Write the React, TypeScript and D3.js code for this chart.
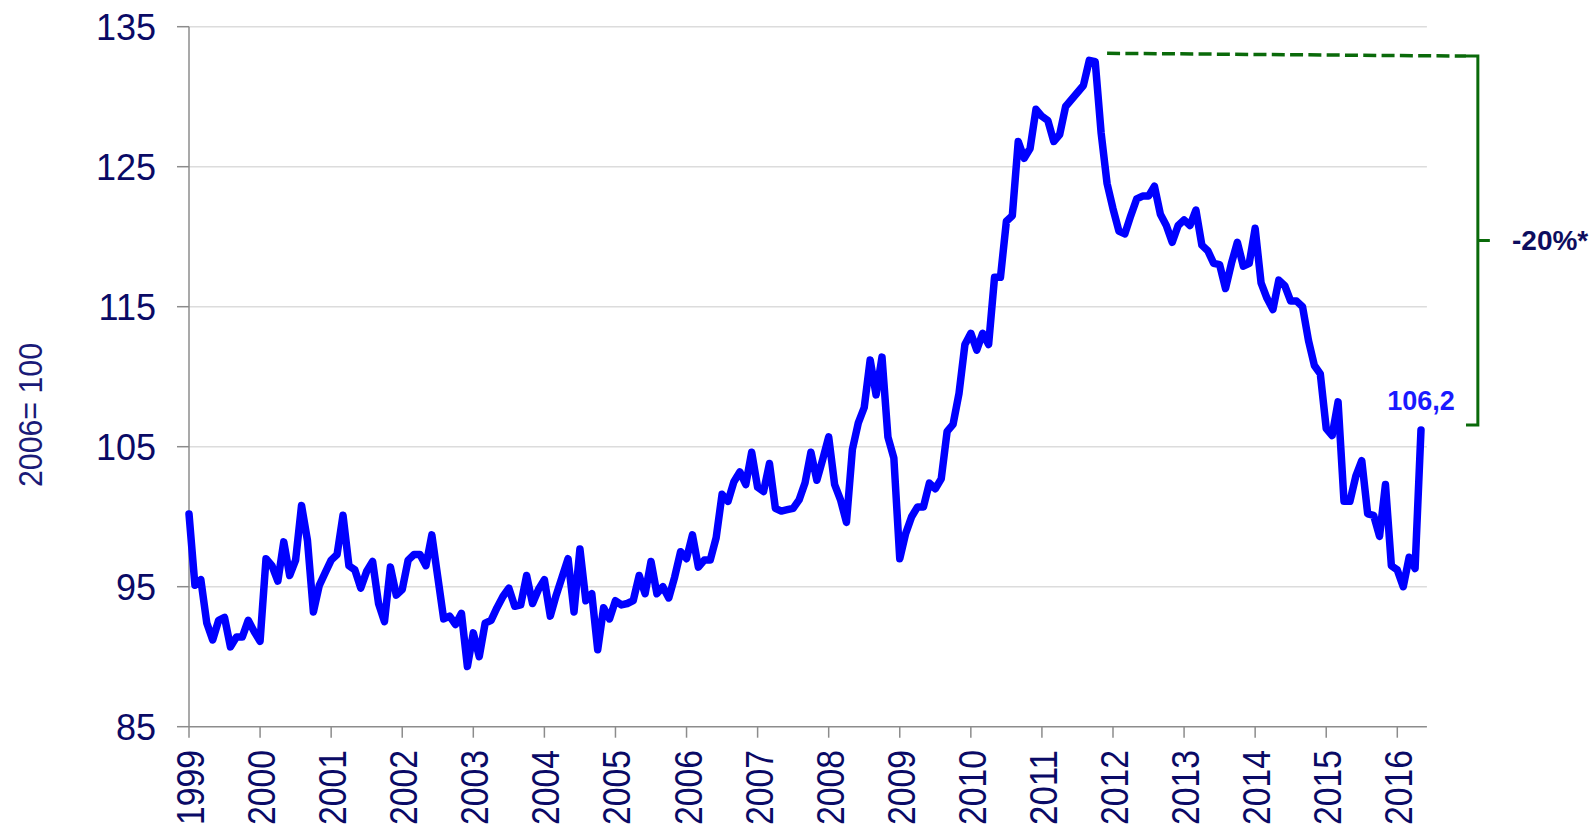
import React from "react";
import * as d3 from "d3";

// Monthly index, Jan 1999 – May 2016 (2006 = 100)
const values: number[] = [
  // 1999
  100.2, 95.1, 95.5, 92.4, 91.2, 92.6, 92.8, 90.7, 91.4, 91.4, 92.6, 91.8,
  // 2000
  91.1, 97.0, 96.5, 95.4, 98.2, 95.8, 96.9, 100.8, 98.3, 93.2, 95.1, 96.0,
  // 2001
  96.9, 97.3, 100.1, 96.5, 96.2, 94.9, 96.1, 96.8, 93.8, 92.5, 96.4, 94.4,
  // 2002
  94.8, 96.9, 97.3, 97.3, 96.5, 98.7, 95.7, 92.7, 92.9, 92.3, 93.1, 89.3,
  // 2003
  91.7, 90.0, 92.4, 92.6, 93.5, 94.3, 94.9, 93.6, 93.7, 95.8, 93.8, 94.8,
  // 2004
  95.5, 92.9, 94.4, 95.7, 97.0, 93.2, 97.7, 94.0, 94.5, 90.5, 93.5, 92.7,
  // 2005
  94.0, 93.7, 93.8, 94.0, 95.8, 94.5, 96.8, 94.5, 95.0, 94.2, 95.7, 97.5,
  // 2006
  97.0, 98.7, 96.4, 96.9, 96.9, 98.5, 101.6, 101.1, 102.5, 103.2, 102.3, 104.6,
  // 2007
  102.1, 101.8, 103.8, 100.6, 100.4, 100.5, 100.6, 101.2, 102.4, 104.6, 102.6, 104.1,
  // 2008
  105.7, 102.3, 101.2, 99.6, 104.8, 106.7, 107.8, 111.2, 108.7, 111.4, 105.7, 104.2,
  // 2009
  97.0, 98.8, 100.0, 100.7, 100.7, 102.4, 102.0, 102.7, 106.1, 106.6, 108.8, 112.3,
  // 2010
  113.1, 111.9, 113.1, 112.3, 117.1, 117.1, 121.1, 121.5, 126.8, 125.6, 126.3, 129.1,
  // 2011
  128.6, 128.3, 126.8, 127.3, 129.3, 129.8, 130.3, 130.8, 132.6, 132.5, 127.4, 123.8,
  // 2012
  122.0, 120.4, 120.2, 121.5, 122.7, 122.9, 122.9, 123.6, 121.6, 120.8, 119.6, 120.8,
  // 2013
  121.2, 120.8, 121.9, 119.4, 119.0, 118.1, 118.0, 116.3, 118.1, 119.6, 117.9, 118.1,
  // 2014
  120.6, 116.7, 115.6, 114.8, 116.9, 116.5, 115.4, 115.4, 115.0, 112.6, 110.8, 110.2,
  // 2015
  106.3, 105.8, 108.2, 101.1, 101.1, 102.9, 104.0, 100.2, 100.1, 98.6, 102.3, 96.5,
  // 2016
  96.2, 95.0, 97.1, 96.3, 106.2,
];

const yearLabels: number[] = d3.range(1999, 2017);
const yTicks: number[] = [85, 95, 105, 115, 125, 135];
const yTitle = "2006= 100";
const lastLabel = "106,2";
const dropLabel = "-20%*";
const peakLevelStart = 133.1;
const peakLevelEnd = 132.9;
const bracketBottom = 106.55;

const FONT = "'Liberation Sans', Arial, Helvetica, sans-serif";
const NAVY = "#0a0a66";
const GREEN = "#0a6a0a";

export default function App() {
  const W = 1591;
  const H = 827;
  const x = d3.scaleLinear().domain([0, 204]).range([189, 1397.3]);
  const y = d3.scaleLinear().domain([85, 135]).range([726.7, 26.7]);
  const xEnd = x(209);

  const line = d3
    .line<number>()
    .x((_, i) => x(i))
    .y((d) => y(d));

  const xb = x(217.6);
  const xc = x(215.6);
  const yTop = y(peakLevelEnd);
  const yBot = y(bracketBottom);
  const yMid = (yTop + yBot) / 2;
  const last = values.length - 1;

  return (
    <svg
      width={W}
      height={H}
      style={{ position: "absolute", left: 0, top: 0, background: "#fff" }}
    >
      {/* gridlines */}
      {yTicks.slice(1).map((t) => (
        <line
          key={"g" + t}
          x1={x(0)}
          x2={xEnd}
          y1={y(t)}
          y2={y(t)}
          stroke="#dcdcdc"
          strokeWidth={1.5}
        />
      ))}
      {/* y axis */}
      <line x1={x(0)} x2={x(0)} y1={y(135)} y2={y(85)} stroke="#8c8c8c" strokeWidth={1.5} />
      {yTicks.map((t) => (
        <g key={"y" + t}>
          <line x1={x(0) - 12} x2={x(0)} y1={y(t)} y2={y(t)} stroke="#8c8c8c" strokeWidth={1.5} />
          <text
            x={156}
            y={y(t)}
            dy="0.36em"
            textAnchor="end"
            fontFamily={FONT}
            fontSize={36}
            fill={NAVY}
          >
            {t}
          </text>
        </g>
      ))}
      {/* x axis */}
      <line x1={x(0)} x2={xEnd} y1={y(85)} y2={y(85)} stroke="#8c8c8c" strokeWidth={1.5} />
      {yearLabels.map((yr, k) => {
        const xi = x(k * 12);
        return (
          <g key={"x" + yr}>
            <line x1={xi} x2={xi} y1={y(85)} y2={y(85) + 11} stroke="#8c8c8c" strokeWidth={1.5} />
            <text
              transform={`translate(${xi + 15},750) rotate(-90)`}
              textAnchor="end"
              fontFamily={FONT}
              fontSize={39}
              textLength={75}
              lengthAdjust="spacingAndGlyphs"
              fill={NAVY}
            >
              {yr}
            </text>
          </g>
        );
      })}
      {/* y title */}
      <text
        transform={`translate(42,415) rotate(-90)`}
        textAnchor="middle"
        fontFamily={FONT}
        fontSize={34}
        textLength={144}
        lengthAdjust="spacingAndGlyphs"
        fill="#1a1a78"
      >
        {yTitle}
      </text>

      {/* series */}
      <path
        d={line(values) || ""}
        fill="none"
        stroke="#0000ff"
        strokeWidth={7.5}
        strokeLinejoin="round"
        strokeLinecap="round"
      />

      {/* annotation */}
      <line
        x1={x(155)}
        x2={xc}
        y1={y(peakLevelStart)}
        y2={y(peakLevelEnd)}
        stroke={GREEN}
        strokeWidth={3.5}
        strokeDasharray="13 5.3"
      />
      <path
        d={`M${xc},${yTop}H${xb}V${yBot}H${xc}M${xb},${yMid}H${xb + 12}`}
        fill="none"
        stroke={GREEN}
        strokeWidth={3}
      />
      <text
        x={1512}
        y={yMid + 9}
        fontFamily={FONT}
        fontSize={28}
        fontWeight="bold"
        fill="#0d0d5e"
      >
        {dropLabel}
      </text>
      <text
        x={x(last)}
        y={y(values[last]) - 20}
        textAnchor="middle"
        fontFamily={FONT}
        fontSize={27}
        fontWeight="bold"
        fill="#1a1aff"
      >
        {lastLabel}
      </text>
    </svg>
  );
}
